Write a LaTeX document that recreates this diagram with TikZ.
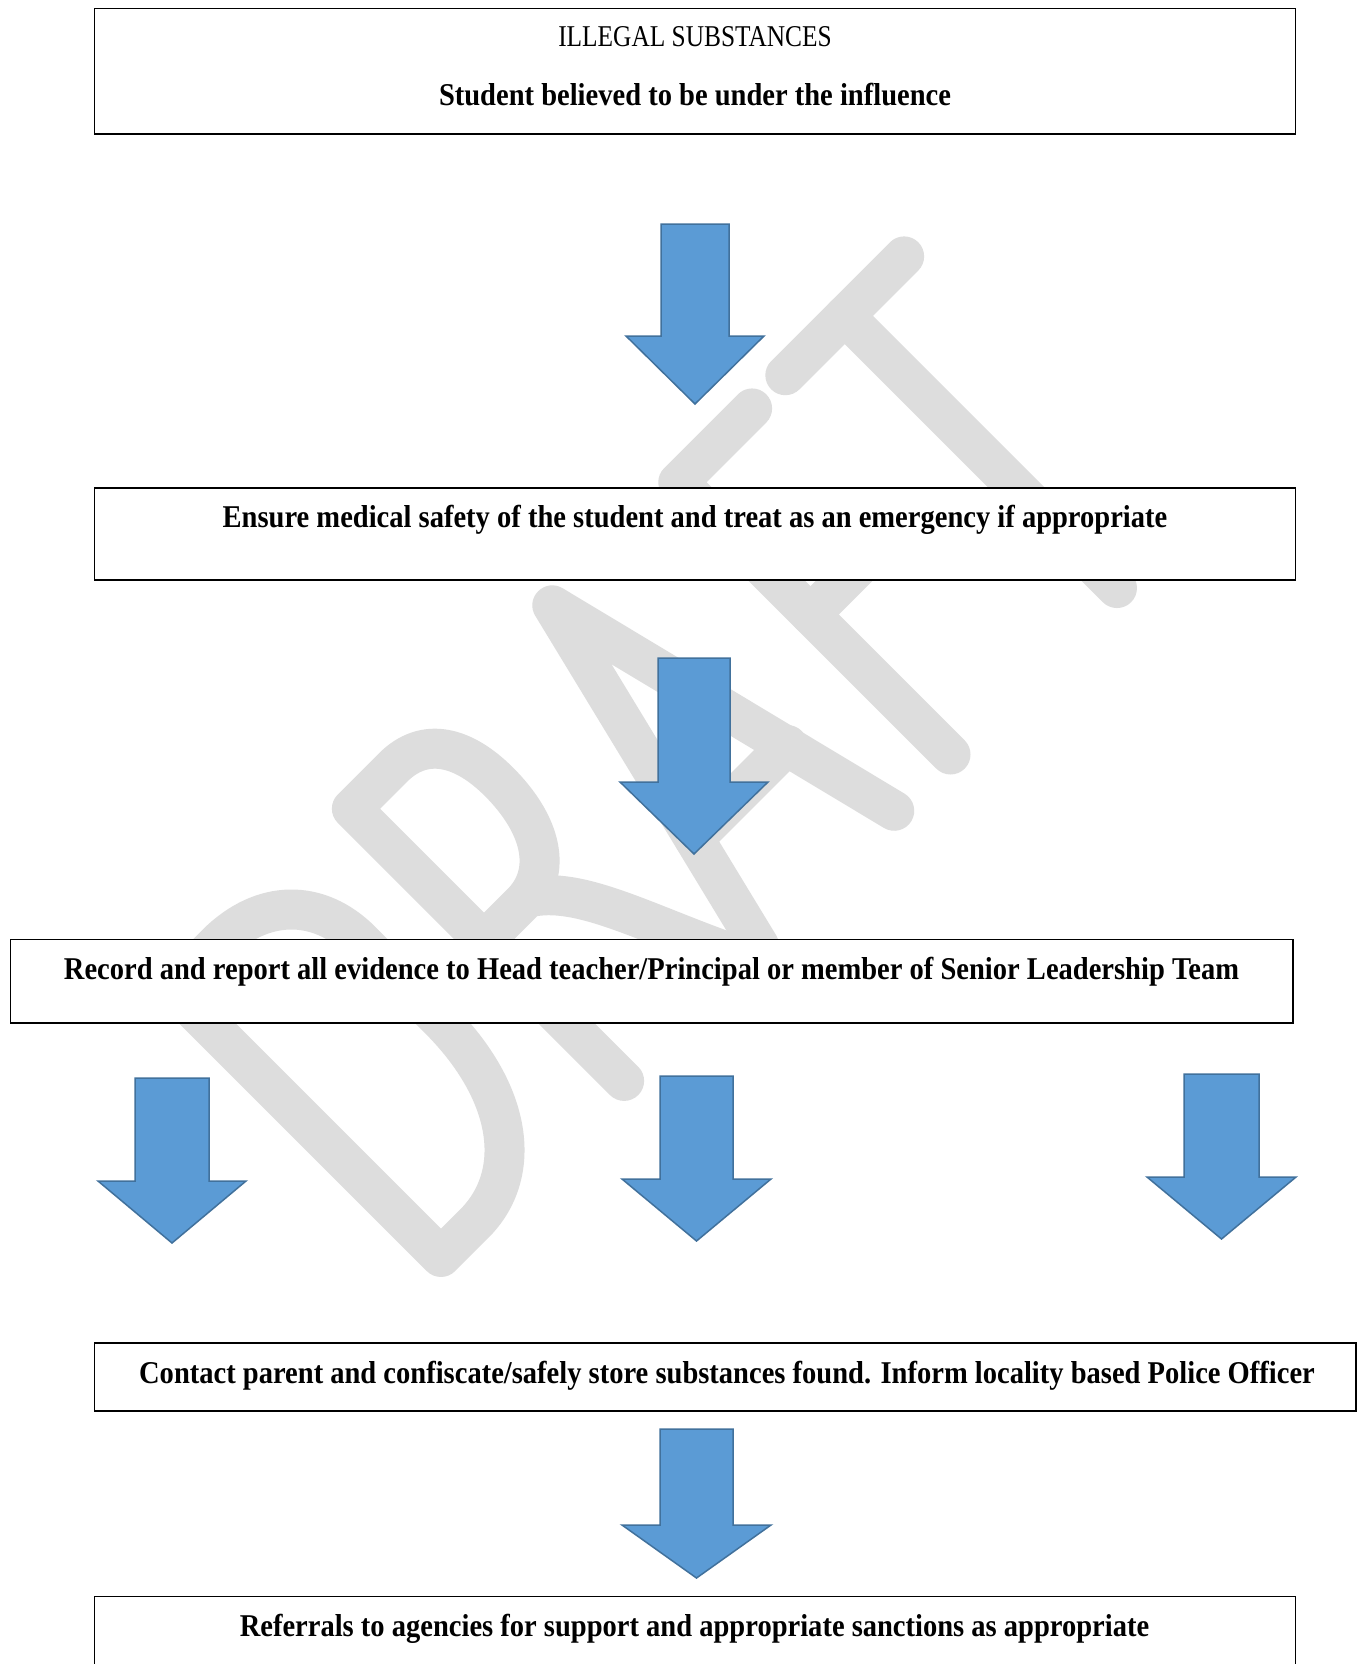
\documentclass[tikz,border=0pt]{standalone}
\usepackage{fontspec}
\setmainfont{Liberation Serif}[FakeStretch=0.9]
\newfontfamily\titlefont{Liberation Serif}[FakeStretch=0.84]
\definecolor{wmgray}{RGB}{221,221,221}
\definecolor{arrowfill}{RGB}{91,155,213}
\definecolor{arrowline}{RGB}{65,113,156}
\newcommand{\blkarrow}[7]{%
  \path[blockarrow] (#2-#4,#3) -- (#2+#4,#3) -- (#2+#4,#5) -- (#2+#6,#5)
    -- (#2,#7) -- (#2-#6,#5) -- (#2-#4,#5) -- cycle;
  \coordinate (#1) at (#2,#7);}
\begin{document}
\begin{tikzpicture}[x=1pt,y=-1pt,
  box/.style={draw=black, line width=1.7pt, fill=white, inner sep=0pt, outer sep=0pt, anchor=north west},
  txt/.style={font=\fontsize{31.7}{38}\selectfont\bfseries, anchor=base, inner sep=0pt},
  wm/.style={draw=wmgray, line width=40pt, line cap=round, line join=round},
  blockarrow/.style={fill=arrowfill, draw=arrowline, line width=1.5pt, line join=miter}]
\useasboundingbox (0,0) rectangle (1357,1664);
\clip (0,0) rectangle (1357,1664);
\fill[white] (0,0) rectangle (1357,1664);
% watermark DRAFT
\begin{scope}[cm={0.7071,0.7071,0.7071,-0.7071,(852.5,852.5)}]
  % D
  \draw[wm] (-577,5) -- (-577,385) -- (-515,385) .. controls (-450,385) and (-410,345) .. (-410,285)
    -- (-410,175) .. controls (-410,70) and (-460,5) .. (-530,5) -- cycle;
  % R
  \draw[wm] (-323,0) -- (-323,385) -- (-265,385) .. controls (-220,385) and (-200,350) .. (-200,300)
    .. controls (-200,240) and (-225,198) .. (-270,198) -- (-323,198);
  \draw[wm] (-262,198) .. controls (-215,170) and (-195,90) .. (-150,0);
  % A
  \draw[wm] (-132,0) -- (-37.5,387) -- (59,0);
  \draw[wm] (-102,122) -- (30,122);
  % F
  \draw[wm] (138.6,0) -- (138.6,385) -- (243,385);
  \draw[wm] (138.6,198) -- (228,198);
  % T
  \draw[wm] (290,385) -- (458,385);
  \draw[wm] (374,385) -- (374,0);
\end{scope}
% boxes
\node[box, minimum width=1201.1pt, minimum height=125.2pt] (b1) at (94.4,8.5) {};
\node[box, minimum width=1201.1pt, minimum height=92pt] (b2) at (94.4,488) {};
\node[box, minimum width=1282.4pt, minimum height=83.5pt] (b3) at (10.6,939.5) {};
\node[box, minimum width=1261.6pt, minimum height=68pt] (b4) at (94.4,1343) {};
\node[box, minimum width=1201.1pt, minimum height=110pt] (b5) at (94.4,1596.5) {};
% arrows
\blkarrow{a1}{695}{224}{34}{336}{69}{404}
\blkarrow{a2}{694}{658}{36}{782}{74}{854}
\blkarrow{a3}{172}{1078}{37}{1181}{74}{1243}
\blkarrow{a4}{696.5}{1076}{36.5}{1179}{74.5}{1241}
\blkarrow{a5}{1221.5}{1074}{37.5}{1177}{74.5}{1239}
\blkarrow{a6}{696.5}{1429}{36.5}{1525}{74.5}{1578}
% texts
\node[txt, font=\titlefont\fontsize{30.2}{36}\selectfont] (t1a) at (695,46.7) {ILLEGAL SUBSTANCES};
\node[txt] (t1b) at (695,106) {Student believed to be under the influence};
\node[txt] (t2) at (695,527.5) {Ensure medical safety of the student and treat as an emergency if appropriate};
\node[txt] (t3) at (651.5,979.3) {Record and report all evidence to Head teacher/Principal or member of Senior Leadership Team};
\node[txt] (t4) at (727,1383) {Contact parent and confiscate/safely store substances found. Inform locality based Police Officer};
\node[txt] (t5) at (694.5,1636) {Referrals to agencies for support and appropriate sanctions as appropriate};
\end{tikzpicture}
\end{document}
